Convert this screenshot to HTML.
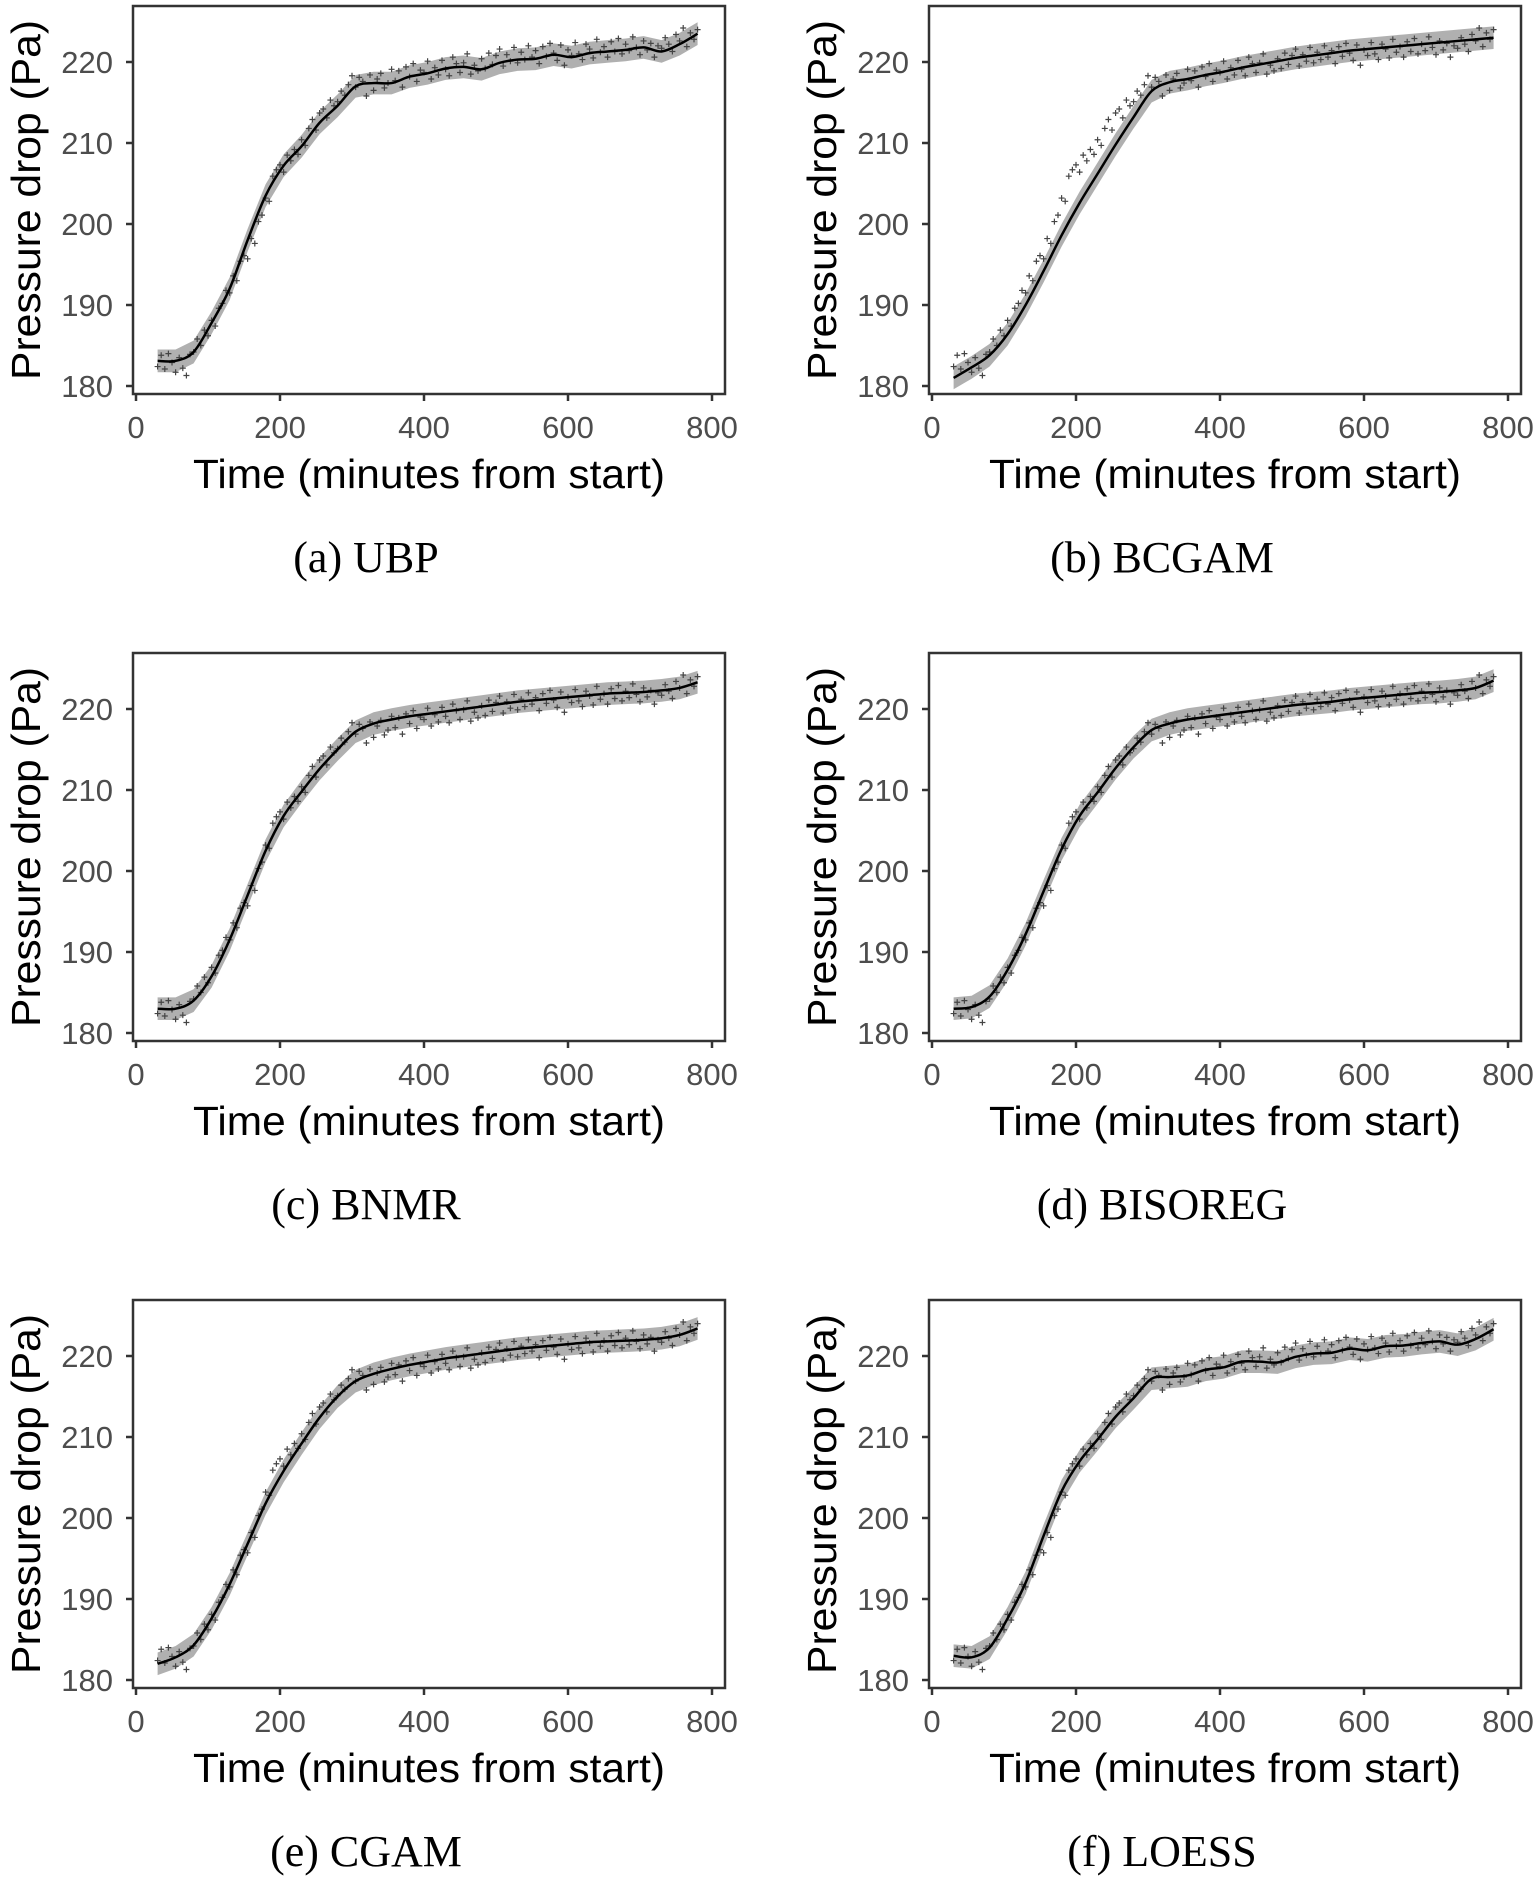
<!DOCTYPE html>
<html><head><meta charset="utf-8"><style>
html,body{margin:0;padding:0;background:#fff}
svg{display:block}
</style></head><body>
<svg id="fig" width="1539" height="1883" viewBox="0 0 1539 1883" xmlns="http://www.w3.org/2000/svg"></svg>
<script>
const obsStart = 30, obsStep = 5;
const obsValues = [
182.4,183.8,182.1,184.0,182.9,181.7,183.5,182.2,181.3,183.9,
184.2,185.8,185.0,186.9,186.2,188.1,187.4,189.6,190.2,191.8,
191.5,193.6,193.0,195.4,196.1,195.7,198.2,197.6,200.3,201.1,
203.2,202.8,205.9,206.7,207.3,206.4,208.5,207.8,209.2,208.6,
210.4,209.7,211.8,212.9,211.6,213.7,214.2,213.1,215.3,214.6,
215.1,216.4,215.9,217.2,218.3,216.9,218.1,217.6,215.8,218.4,
216.5,217.9,218.6,216.8,217.4,219.1,217.7,218.9,216.9,219.4,
218.2,219.8,217.6,219.0,218.7,220.1,217.9,219.3,218.4,220.2,
219.1,218.3,220.6,219.8,218.7,219.9,221.0,218.5,219.6,218.9,
220.4,219.2,221.1,219.7,220.8,221.6,219.5,220.9,220.1,221.8,
219.9,221.2,220.3,222.0,220.6,221.4,219.8,221.9,220.7,222.3,
221.1,220.2,222.1,219.6,221.5,220.8,222.4,221.0,220.3,222.2,
221.6,220.5,222.8,221.2,221.9,220.6,222.5,221.3,222.9,221.0,
222.2,221.4,223.1,221.8,220.9,222.6,221.5,222.3,220.6,222.0,
221.7,223.0,222.2,221.3,223.4,222.6,224.2,221.9,223.6,222.8,
224.0];
const fitStart = 30, fitStep = 25;
const fitUBP = [183.1,183.1,184.2,187.8,192.0,198.0,203.5,207.2,209.6,212.5,214.6,217.0,217.4,217.4,218.2,218.6,219.2,219.4,219.1,219.9,220.3,220.4,220.9,220.6,221.1,221.3,221.5,221.8,221.3,222.2,223.5];
const fitBCGAM = [181.0,182.3,183.8,186.4,190.0,194.2,198.6,202.6,206.2,209.8,213.2,216.4,217.5,217.9,218.4,218.8,219.3,219.7,220.1,220.5,220.8,221.1,221.4,221.6,221.8,222.0,222.2,222.4,222.6,222.8,223.0];
const fitBNMR = [183.0,183.0,184.0,187.0,191.5,197.0,202.5,206.8,209.8,212.6,215.0,217.2,218.2,218.7,219.1,219.4,219.7,220.0,220.3,220.6,220.9,221.1,221.3,221.5,221.7,221.9,222.0,222.1,222.3,222.6,223.3];
const fitBISOREG = [183.0,183.2,184.5,187.8,192.2,197.5,202.7,206.8,209.7,212.7,215.3,217.4,218.2,218.7,219.0,219.3,219.6,219.9,220.2,220.5,220.7,220.9,221.2,221.4,221.6,221.8,222.0,222.1,222.3,222.6,223.5];
const fitCGAM = [182.0,182.8,184.3,187.6,191.8,196.8,201.8,205.8,209.2,212.4,215.0,216.9,217.8,218.4,218.9,219.3,219.7,220.0,220.3,220.6,220.9,221.1,221.3,221.5,221.7,221.8,221.9,222.0,222.2,222.6,223.4];
const fitLOESS = [183.0,182.8,184.0,187.6,192.0,197.8,203.3,207.0,209.7,212.5,214.8,217.2,217.4,217.6,218.3,218.6,219.3,219.3,219.2,219.9,220.3,220.4,220.9,220.7,221.2,221.3,221.6,221.8,221.4,222.1,223.3];
const captions = ["(a) UBP","(b) BCGAM","(c) BNMR","(d) BISOREG","(e) CGAM","(f) LOESS"];
const xTicks = [0,200,400,600,800];
const yTicks = [180,190,200,210,220];

const NS="http://www.w3.org/2000/svg";
const svg=document.getElementById('fig');
function mk(tag,attrs,parent){const e=document.createElementNS(NS,tag);for(const k in attrs)e.setAttribute(k,attrs[k]);parent.appendChild(e);return e;}
const fits=[fitUBP,fitBCGAM,fitBNMR,fitBISOREG,fitCGAM,fitLOESS];
const keys=['ubp','bcgam','bnmr','bisoreg','cgam','loess'];

fits.forEach((fit,i)=>{
  const ox=(i%2)*796, oy=Math.floor(i/2)*647;
  const g=mk('g',{transform:`translate(${ox},${oy})`},svg);
  
  
  const X=t=>136+t*0.72, Y=v=>386-(v-180)*8.1;
  let up='',lo='';
  fit.forEach((v,j)=>{const t=fitStart+j*fitStep;up+=(j?'L':'M')+X(t)+','+Y(v+1.4);});
  for(let j=fit.length-1;j>=0;j--){const t=fitStart+j*fitStep;lo+='L'+X(t)+','+Y(fit[j]-1.4);}
  const band=mk('path',{d:up+lo+'Z',fill:'#707070','fill-opacity':'0.55'},g);
  
  
  const sc=mk('g',{stroke:'#444','stroke-width':'1.2'},g);
  
  
  obsValues.forEach((v,j)=>{
    const x=X(obsStart+j*obsStep), y=Y(v);
    const p=mk('path',{d:`M${x-3},${y}h6M${x},${y-3}v6`},sc);
    
    
  });
  const pts=fit.map((v,j)=>[X(fitStart+j*fitStep),Y(v)]);
  let d='M'+pts[0][0]+','+pts[0][1];
  for(let j=0;j<pts.length-1;j++){
    const p0=pts[Math.max(j-1,0)],p1=pts[j],p2=pts[j+1],p3=pts[Math.min(j+2,pts.length-1)];
    d+=`C${p1[0]+(p2[0]-p0[0])/6},${p1[1]+(p2[1]-p0[1])/6} ${p2[0]-(p3[0]-p1[0])/6},${p2[1]-(p3[1]-p1[1])/6} ${p2[0]},${p2[1]}`;
  }
  const ln=mk('path',{d:d,fill:'none',stroke:'#000','stroke-width':'2.5'},g);
  
  
  const bx=mk('rect',{x:133,y:6,width:592,height:388,fill:'none',stroke:'#333','stroke-width':'2.5'},g);
  
  
  xTicks.forEach(t=>{
    const tk=mk('line',{x1:X(t),x2:X(t),y1:394,y2:401,stroke:'#333','stroke-width':'2.5'},g);
    
    
    const tx=mk('text',{x:X(t),y:438,'text-anchor':'middle','font-size':'31','fill':'#4d4d4d','font-family':'Liberation Sans, sans-serif'},g);
    tx.textContent=t;
    
    
  });
  yTicks.forEach(v=>{
    const tk=mk('line',{x1:126,x2:133,y1:Y(v),y2:Y(v),stroke:'#333','stroke-width':'2.5'},g);
    
    
    const tx=mk('text',{x:113,y:Y(v)+11,'text-anchor':'end','font-size':'31','fill':'#4d4d4d','font-family':'Liberation Sans, sans-serif'},g);
    tx.textContent=v;
    
    
  });
  const xt=mk('text',{x:429,y:488,'text-anchor':'middle','font-size':'41','fill':'#000','font-family':'Liberation Sans, sans-serif',textLength:'472',lengthAdjust:'spacingAndGlyphs'},g);
  xt.textContent='Time (minutes from start)';
  
  
  const yt=mk('text',{x:0,y:0,transform:'translate(40,200) rotate(-90)','text-anchor':'middle','font-size':'41','fill':'#000','font-family':'Liberation Sans, sans-serif',textLength:'360',lengthAdjust:'spacingAndGlyphs'},g);
  yt.textContent='Pressure drop (Pa)';
  
  
  const cp=mk('text',{x:366,y:572,'text-anchor':'middle','font-size':'44','fill':'#000','font-family':'Liberation Serif, serif'},g);
  cp.textContent=captions[i];
  
  
});
</script>
</body></html>
